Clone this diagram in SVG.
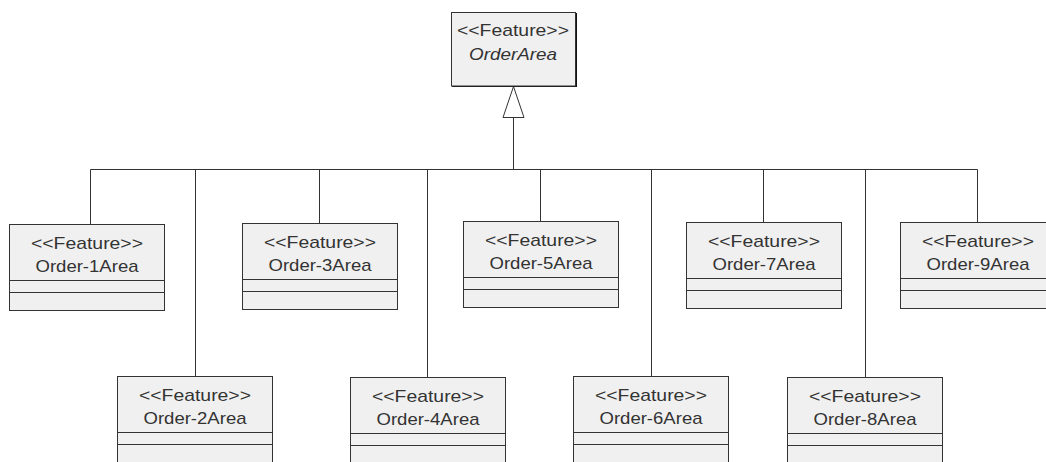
<svg xmlns="http://www.w3.org/2000/svg" width="1046" height="462" viewBox="0 0 1046 462">
<style>
.box{fill:#f0f0f0;stroke:#333;stroke-width:1}
.sh{fill:#111}
.div{stroke:#333;stroke-width:1;fill:none}
.t{font-family:"Liberation Sans",Arial,sans-serif;font-size:17px;fill:#333;text-anchor:middle}
.i{font-style:italic}
.c{stroke:#333;stroke-width:1;fill:none}
</style>
<defs>
<g id="cls">
<rect class="sh" x="1" y="1" width="155" height="86"/>
<rect class="box" x="0.5" y="0.5" width="155" height="86"/>
<line class="div" x1="0.5" y1="56.5" x2="155.5" y2="56.5"/>
<line class="div" x1="0.5" y1="68.5" x2="155.5" y2="68.5"/>
<text class="t" x="78" y="25" textLength="112" lengthAdjust="spacingAndGlyphs">&lt;&lt;Feature&gt;&gt;</text>
</g>
</defs>
<rect width="1046" height="462" fill="#fff"/>
<g id="connectors">
<line class="c" x1="90.5" y1="169.5" x2="977.5" y2="169.5"/>
<line class="c" x1="513.5" y1="117" x2="513.5" y2="169.5"/>
<polygon points="513.5,86.5 503,117.5 524,117.5" fill="#fff" stroke="#333" stroke-width="1"/>
<line class="c" x1="90.5" y1="169.5" x2="90.5" y2="224"/>
<line class="c" x1="195.5" y1="169.5" x2="195.5" y2="376"/>
<line class="c" x1="319.5" y1="169.5" x2="319.5" y2="223"/>
<line class="c" x1="427.5" y1="169.5" x2="427.5" y2="377"/>
<line class="c" x1="540.5" y1="169.5" x2="540.5" y2="221"/>
<line class="c" x1="651.5" y1="169.5" x2="651.5" y2="376"/>
<line class="c" x1="763.5" y1="169.5" x2="763.5" y2="222"/>
<line class="c" x1="865.5" y1="169.5" x2="865.5" y2="377"/>
<line class="c" x1="977.5" y1="169.5" x2="977.5" y2="222"/>
</g>
<g id="OrderArea">
<rect class="sh" x="452" y="13" width="125" height="74"/>
<rect class="box" x="451.5" y="12.5" width="124" height="73.5"/>
<text class="t" x="513" y="36" textLength="112" lengthAdjust="spacingAndGlyphs">&lt;&lt;Feature&gt;&gt;</text>
<text class="t i" x="513" y="60" textLength="88" lengthAdjust="spacingAndGlyphs">OrderArea</text>
</g>
<g id="Order-1Area" transform="translate(9,224)"><use href="#cls"/><text class="t" x="78" y="48" textLength="103" lengthAdjust="spacingAndGlyphs">Order-1Area</text></g>
<g id="Order-2Area" transform="translate(117,376)"><use href="#cls"/><text class="t" x="78" y="48" textLength="103" lengthAdjust="spacingAndGlyphs">Order-2Area</text></g>
<g id="Order-3Area" transform="translate(242,223)"><use href="#cls"/><text class="t" x="78" y="48" textLength="103" lengthAdjust="spacingAndGlyphs">Order-3Area</text></g>
<g id="Order-4Area" transform="translate(350,377)"><use href="#cls"/><text class="t" x="78" y="48" textLength="103" lengthAdjust="spacingAndGlyphs">Order-4Area</text></g>
<g id="Order-5Area" transform="translate(463,221)"><use href="#cls"/><text class="t" x="78" y="48" textLength="103" lengthAdjust="spacingAndGlyphs">Order-5Area</text></g>
<g id="Order-6Area" transform="translate(573,376)"><use href="#cls"/><text class="t" x="78" y="48" textLength="103" lengthAdjust="spacingAndGlyphs">Order-6Area</text></g>
<g id="Order-7Area" transform="translate(686,222)"><use href="#cls"/><text class="t" x="78" y="48" textLength="103" lengthAdjust="spacingAndGlyphs">Order-7Area</text></g>
<g id="Order-8Area" transform="translate(787,377)"><use href="#cls"/><text class="t" x="78" y="48" textLength="103" lengthAdjust="spacingAndGlyphs">Order-8Area</text></g>
<g id="Order-9Area" transform="translate(900,222)"><use href="#cls"/><text class="t" x="78" y="48" textLength="103" lengthAdjust="spacingAndGlyphs">Order-9Area</text></g>
</svg>
